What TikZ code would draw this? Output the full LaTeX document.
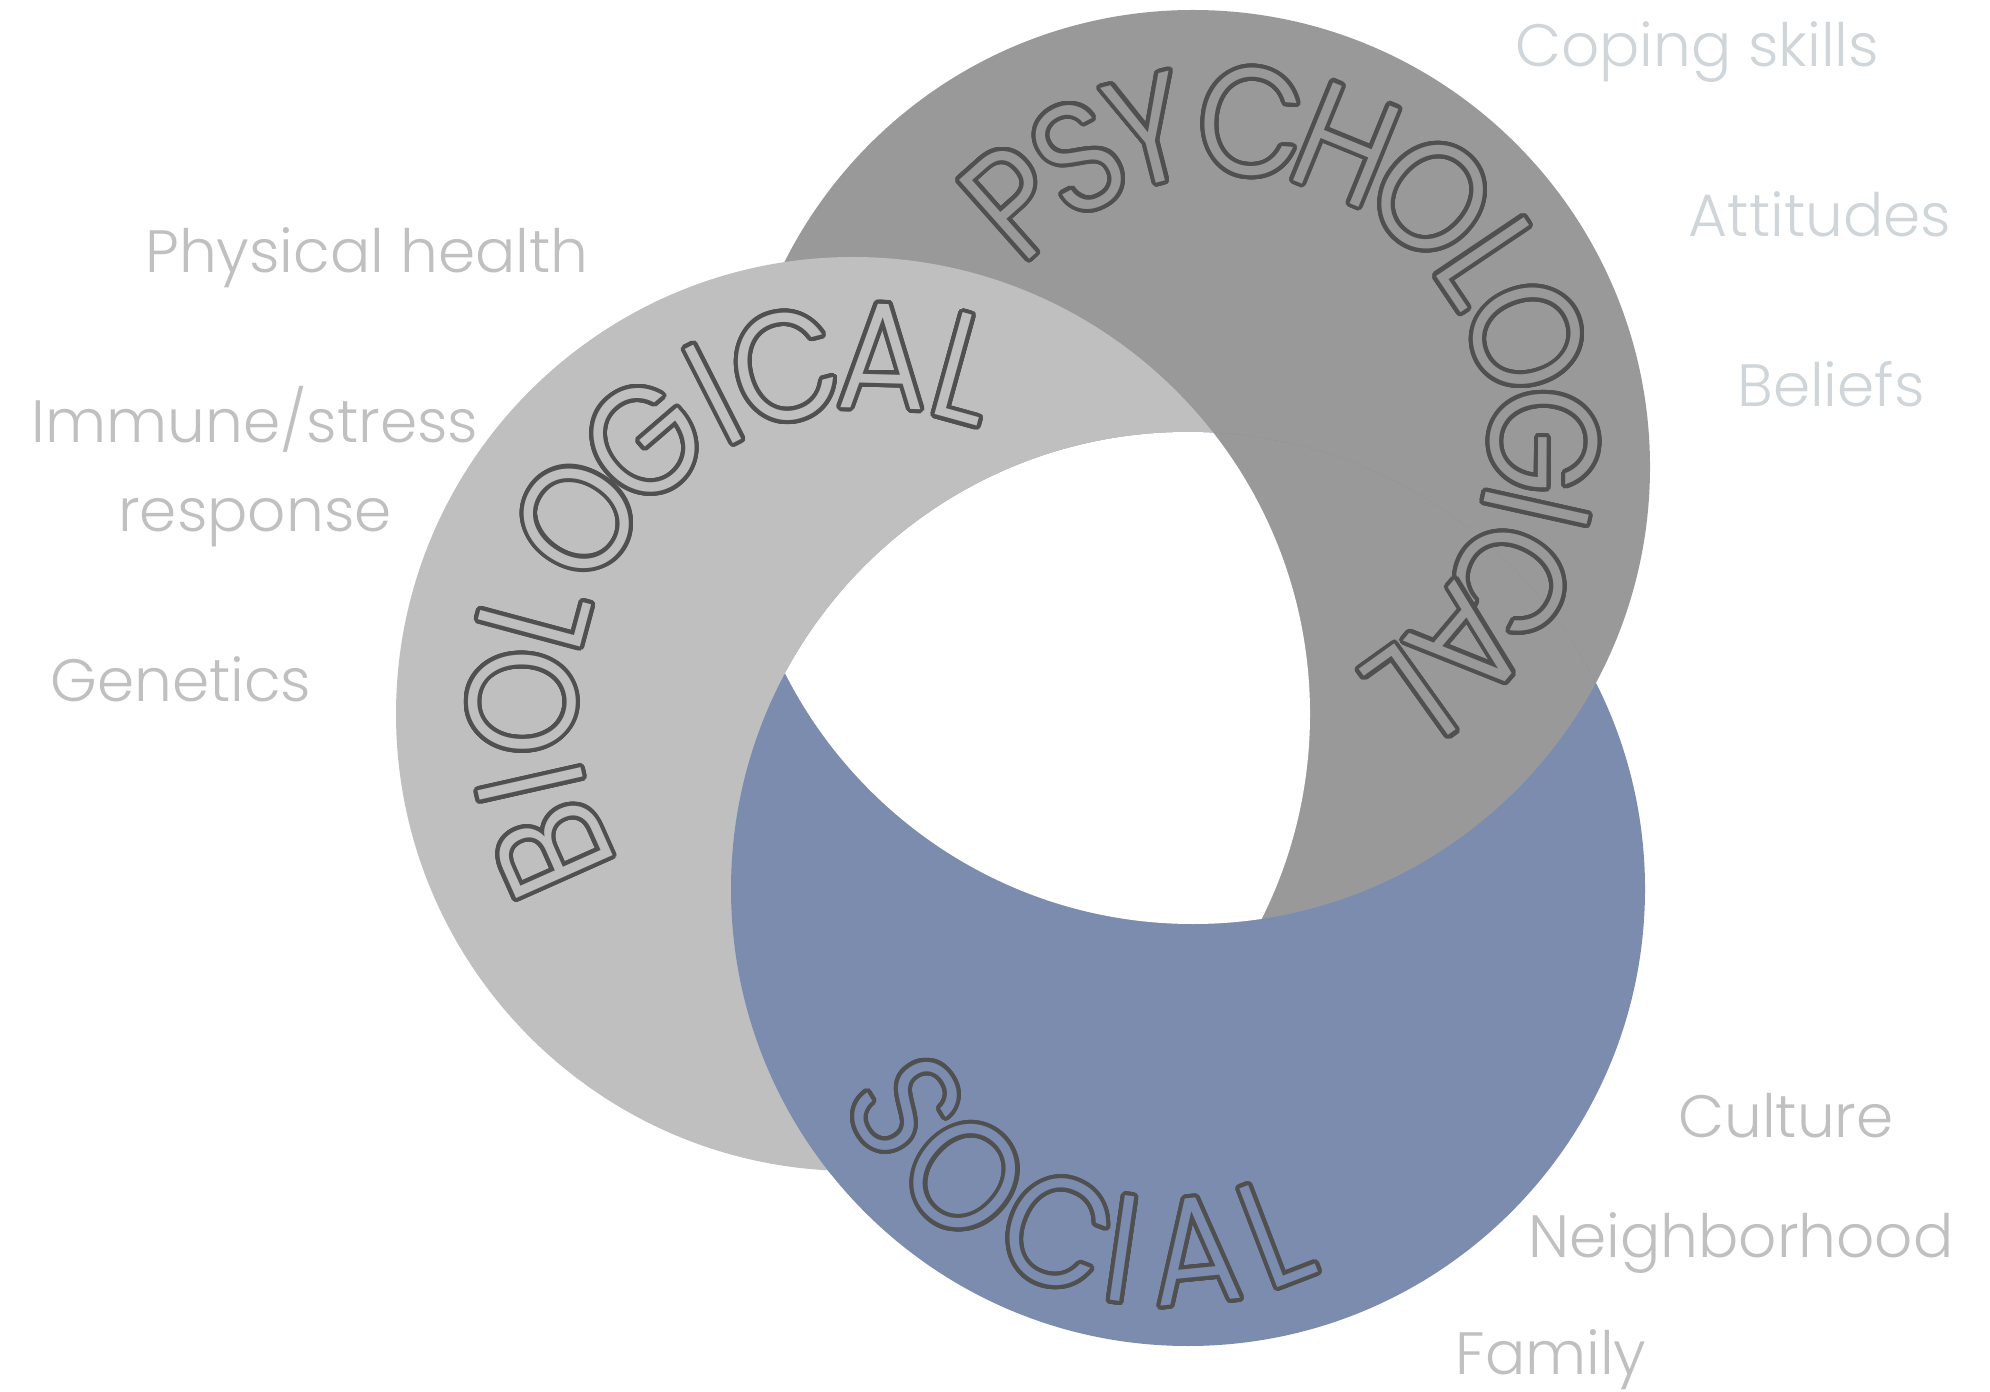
\documentclass[tikz,border=0pt]{standalone}
\usepackage{fontspec}
\setmainfont{Poppins Light}
\newfontfamily\ringfamily[FakeStretch=0.9]{Poppins Light}
\usepackage{contour}
\usetikzlibrary{calc}

\definecolor{biofill}{RGB}{191,191,191}
\definecolor{psyfill}{RGB}{153,153,153}
\definecolor{socfill}{RGB}{124,140,174}
\definecolor{inkline}{RGB}{80,80,80}
\definecolor{factorgray}{RGB}{192,192,192}
\definecolor{factorcool}{RGB}{207,213,216}

\contourlength{1.15pt}
\contournumber{32}
\newcommand{\ringletter}[2]{\contour{inkline}{\textcolor{#1}{#2}}}
\newcommand{\ringfont}{\ringfamily\fontsize{43}{43}\selectfont}
\def\ringr{4.57}

\begin{document}
\begin{tikzpicture}[factor/.style={text=factorgray,font=\fontsize{17}{20}\selectfont,anchor=base,inner sep=0pt},
    ring letter/.style={font=\ringfont,inner sep=0pt,anchor=center}]
    \useasboundingbox (0,0) rectangle (19.90,13.91);

    % 圆心
    \coordinate (bio) at (8.53,6.77);
    \coordinate (psych) at (11.93,9.24);
    \coordinate (social) at (11.88,5.02);
    \coordinate (biotext) at (8.73,6.84);
    \coordinate (psytext) at (12.26,9.52);
    \coordinate (soctext) at (11.66,4.44);

    % 三个圆环, 依次压住
    \fill[psyfill] (psych) circle[radius=\ringr];
    \fill[socfill] (social) circle[radius=\ringr];
    \fill[biofill] (bio) circle[radius=\ringr];
    \begin{scope}
        \clip (bio) circle[radius=\ringr+0.03];
        \fill[socfill] (social) circle[radius=\ringr];
    \end{scope}
    \begin{scope}
        \clip (social) circle[radius=\ringr];
        \fill[psyfill] (psych) circle[radius=\ringr];
    \end{scope}
    \begin{scope}
        \clip (bio) circle[radius=\ringr];
        \clip (social) circle[radius=\ringr];
        \fill[white] (psych) circle[radius=\ringr];
    \end{scope}

    % 环上的标题
    \foreach \ch/\ang [count=\i] in {B/204.0,I/192.7,O/179.2,L/165.0,O/147.5,G/130.7,I/117.0,C/104.5,A/88.5,L/74.6}
        \node[ring letter,rotate=\ang-90] (bio\i) at ($(biotext)+(\ang:3.49)$) {\ringletter{biofill}{\ch}};
    \foreach \ch/\ang [count=\i] in {P/131.6,S/117.6,Y/104.2,C/85.5,H/67.8,O/49.5,L/33.9,O/18.8,G/-0.4,I/-12.6,C/-26.6,A/-40.1,L/-54.4}
        \node[ring letter,rotate=\ang-90] (psy\i) at ($(psytext)+(\ang:3.16)$) {\ringletter{psyfill}{\ch}};
    \foreach \ch/\ang [count=\i] in {S/211.4,O/228.8,C/249.1,I/261.8,A/275.6,L/291.0}
        \node[ring letter,rotate=\ang+90] (soc\i) at ($(soctext)+(\ang:3.07)$) {\ringletter{socfill}{\ch}};

    % 因素
    \node[factor,text=factorcool] (coping) at (16.97,13.24) {Coping skills};
    \node[factor,text=factorcool] (attitudes) at (18.20,11.54) {Attitudes};
    \node[factor,text=factorcool] (beliefs) at (18.31,9.84) {Beliefs};
    \node[factor] (physical) at (3.67,11.18) {Physical health};
    \node[factor] (immune) at (2.55,9.48) {Immune/stress};
    \node[factor] (response) at ([yshift=-0.89cm]immune.base) {response};
    \node[factor] (genetics) at (1.81,6.89) {Genetics};
    \node[factor] (culture) at (17.86,2.54) {Culture};
    \node[factor] (neighborhood) at (17.41,1.34) {Neighborhood};
    \node[factor] (family) at (15.51,0.17) {Family};
\end{tikzpicture}
\end{document}
